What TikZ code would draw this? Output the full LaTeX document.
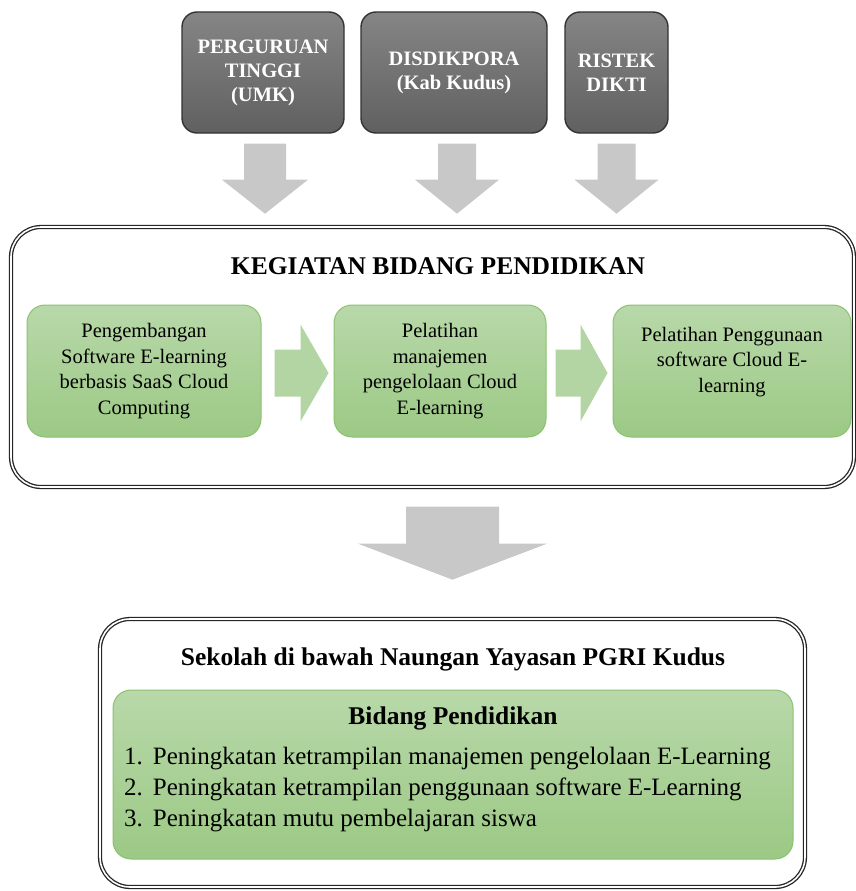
\documentclass[tikz,border=0pt]{standalone}
\usepackage{fontspec}
\setmainfont{Liberation Serif}
\usepackage{xcolor}
\usetikzlibrary{calc,positioning}

\definecolor{darktop}{HTML}{858585}
\definecolor{darkbot}{HTML}{606060}
\definecolor{greentop}{HTML}{B8D8A9}
\definecolor{greenbot}{HTML}{9CC985}
\definecolor{greenline}{HTML}{8CC172}
\definecolor{greenarr}{HTML}{B3D5A3}
\definecolor{grayarr}{HTML}{C8C8C8}

% block arrow pointing down: style, top point, shaft half, head half, shaft length, head length
\newcommand{\downblock}[6]{%
  \fill[#1] ($(#2)+(-#3,0)$) -- ($(#2)+(#3,0)$) -- ($(#2)+(#3,#5)$) -- ($(#2)+(#4,#5)$)
    -- ($(#2)+(0,#5+#6)$) -- ($(#2)+(-#4,#5)$) -- ($(#2)+(-#3,#5)$) -- cycle;}
% block arrow pointing right: style, start point, shaft half, head half, shaft length, head length
\newcommand{\rightblock}[6]{%
  \fill[#1] ($(#2)+(0,-#3)$) -- ($(#2)+(#5,-#3)$) -- ($(#2)+(#5,-#4)$) -- ($(#2)+(#5+#6,0)$)
    -- ($(#2)+(#5,#4)$) -- ($(#2)+(#5,#3)$) -- ($(#2)+(0,#3)$) -- cycle;}

\begin{document}
\begin{tikzpicture}[x=1pt,y=-1pt,
    darkbox/.style={draw=black!80,line width=1.4pt,rounded corners=15pt,
      top color=darktop,bottom color=darkbot,minimum height=121pt,
      text=white,align=center,font=\fontsize{20.5}{24}\selectfont\bfseries},
    bigbox/.style={draw=black!85,double=white,double distance=1.6pt,line width=1.3pt,
      rounded corners=30pt,fill=white},
    greenbox/.style={draw=greenline,line width=1pt,rounded corners=18pt,
      top color=greentop,bottom color=greenbot,align=center,
      font=\fontsize{20.5}{25.5}\selectfont},
    boxtext/.style={align=center,font=\fontsize{20.5}{25.5}\selectfont},
    titletext/.style={font=\fontsize{25.5}{30}\selectfont\bfseries},
    grayarrow/.style={fill=grayarr},
    greenarrow/.style={fill=greenarr}]
  \useasboundingbox (0,0) rectangle (856,891);
  % sources
  \node[darkbox,minimum width=162pt] (pt) at (263,72.5) {PERGURUAN\\TINGGI\\(UMK)};
  \node[darkbox,minimum width=186pt] (dis) at (454,72.5) {DISDIKPORA\\(Kab Kudus)};
  \node[darkbox,minimum width=103pt] (ris) at (616.5,72.5) {RISTEK\\DIKTI};
  % arrows to activities
  \coordinate (a1) at ($(pt.south)+(2,10)$);
  \coordinate (a2) at ($(dis.south)+(3,10)$);
  \coordinate (a3) at ($(ris.south)+(0,10)$);
  \downblock{grayarrow}{a1}{21}{43}{36}{34}
  \downblock{grayarrow}{a2}{19}{42}{36}{34}
  \downblock{grayarrow}{a3}{19}{42}{36}{34}
  % activities
  \node[bigbox,minimum width=843pt,minimum height=260pt] (kg) at (432.5,357) {};
  \node[titletext] (kgtitle) at (438,266) {KEGIATAN BIDANG PENDIDIKAN};
  \node[greenbox,minimum width=234pt,minimum height=132pt] (ga) at (144,371)
    {Pengembangan\\Software E-learning\\berbasis SaaS Cloud\\Computing};
  \node[greenbox,minimum width=212pt,minimum height=132pt] (gb) at (440,371)
    {Pelatihan\\manajemen\\pengelolaan Cloud\\E-learning};
  \node[greenbox,minimum width=238pt,minimum height=132pt] (gc) at (732,371) {};
  \node[boxtext] (gctext) at ($(gc.center)+(0,-9)$)
    {Pelatihan Penggunaan\\software Cloud E-\\learning};
  \coordinate (r1) at ($(ga.east)+(13,2)$);
  \coordinate (r2) at ($(gb.east)+(9,2)$);
  \rightblock{greenarrow}{r1}{23.5}{48.5}{26}{28}
  \rightblock{greenarrow}{r2}{23.5}{48.5}{25}{27}
  % schools
  \node[bigbox,minimum width=705pt,minimum height=268pt] (sk) at (452.5,753) {};
  \coordinate (d1) at ($(sk.north |- kg.south)+(0,19)$);
  \downblock{grayarrow}{d1}{46.5}{94.5}{37}{36}
  \node[titletext] (sktitle) at (453,659) {Sekolah di bawah Naungan Yayasan PGRI Kudus};
  \node[greenbox,minimum width=680pt,minimum height=169pt] (bp) at (453,774.5) {};
  \node[titletext] (bptitle) at (453,718) {Bidang Pendidikan};
  \node[anchor=west,align=left,inner sep=0pt,font=\fontsize{25}{31}\selectfont] (bplist) at (124,789)
    {\begin{tabular}{@{}l@{\hspace{10pt}}l@{}}
      1. & Peningkatan ketrampilan manajemen pengelolaan E-Learning\\
      2. & Peningkatan ketrampilan penggunaan software E-Learning\\
      3. & Peningkatan mutu pembelajaran siswa
    \end{tabular}};
\end{tikzpicture}
\end{document}
